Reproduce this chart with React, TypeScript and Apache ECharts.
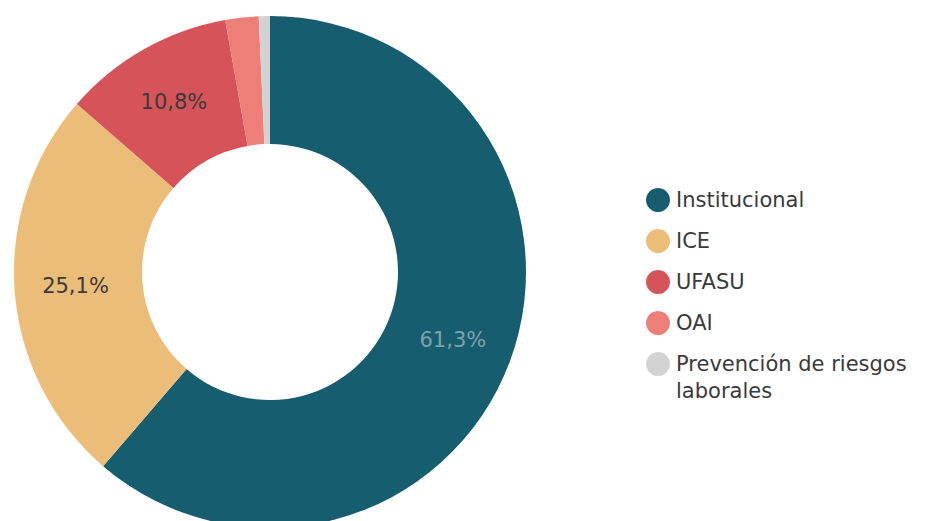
import React, { useEffect, useRef } from "react";
import * as echarts from "echarts";

const categories = ["Institucional", "ICE", "UFASU", "OAI", "Prevención de riesgos laborales"];
const values = [61.3, 25.1, 10.8, 2.1, 0.7];
const labels = ["61,3%", "25,1%", "10,8%", "", ""];
const colors = ["#165d70", "#ebbd78", "#d65459", "#ee7f78", "#d3d3d3"];
const labelColors = ["#7fa0aa", "#3a3a3a", "#3a3a3a", "#3a3a3a", "#3a3a3a"];

const FONT = "'DejaVu Sans', 'Open Sans', sans-serif";

export default function App() {
  const ref = useRef<HTMLDivElement>(null);
  useEffect(() => {
    if (!ref.current) return;
    const chart = echarts.init(ref.current, null, { renderer: "svg" });
    chart.setOption({
      animation: false,
      backgroundColor: "#ffffff",
      legend: {
        orient: "vertical",
        left: 641,
        top: 183,
        itemWidth: 24,
        itemHeight: 24,
        itemGap: 17,
        icon: "circle",
        data: categories,
        formatter: (name: string) =>
          name === "Prevención de riesgos laborales" ? "Prevención de riesgos" : name,
        textStyle: { fontFamily: FONT, fontSize: 21, lineHeight: 24, color: "#3a3a3a", padding: [0, 0, 0, 1] },
      },
      graphic: [
        {
          type: "text",
          left: 676,
          top: 380,
          style: { text: "laborales", font: `21px ${FONT}`, fill: "#3a3a3a" },
        },
      ],
      series: [
        {
          type: "pie",
          center: [270, 272],
          radius: [128, 256],
          startAngle: 90,
          clockwise: true,
          avoidLabelOverlap: false,
          label: {
            show: true,
            position: "inside",
            fontFamily: FONT,
            fontSize: 21,
          },
          labelLine: { show: false },
          emphasis: { disabled: true },
          data: categories.map((name, i) => ({
            name,
            value: values[i],
            itemStyle: { color: colors[i] },
            label: { formatter: labels[i], color: labelColors[i] },
          })),
        },
      ],
    });
    return () => chart.dispose();
  }, []);
  return (
    <div
      ref={ref}
      style={{ position: "fixed", left: 0, top: 0, width: 951, height: 521 }}
    />
  );
}
